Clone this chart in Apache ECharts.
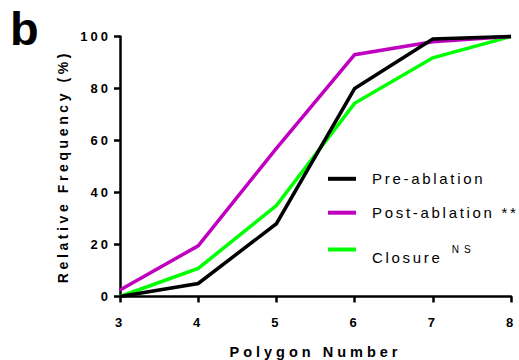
<!DOCTYPE html>
<html>
<head>
<meta charset="utf-8">
<script src="https://cdn.jsdelivr.net/npm/echarts@6/dist/echarts.min.js"></script>
<style>
  html, body { margin: 0; padding: 0; background: #fff; }
  #chart { width: 519px; height: 360px; }
  /* tracked lettering, keyed on the font size of each text group */
  #chart text[style*="13px"] { letter-spacing: 3px; }
  #chart text[style*="14px"] { letter-spacing: 3.6px; }
  #chart text[style*="14.5px"] { letter-spacing: 4px; }
  #chart text[style*="15px"] { letter-spacing: 2.7px; }
  #chart text[style*="10px"] { letter-spacing: 5px; }
</style>
</head>
<body>
<div id="chart"></div>
<script>
// Cumulative relative frequency (%) by polygon number
const polygonNumbers = [3, 4, 5, 6, 7, 8];
const preAblation  = [0, 5, 28, 80, 99, 100];
const postAblation = [2.5, 19.5, 57, 93, 98, 100];
const closure      = [0, 10.8, 35, 74.3, 91.8, 100];

const seriesNames = ['Pre-ablation', 'Post-ablation', 'Closure'];
const legendLabels = ['Pre-ablation', 'Post-ablation **', 'Closure'];
const seriesColors = ['#000000', '#bf00bf', '#00ff00'];

const FONT = '"Liberation Sans", Arial, Helvetica, sans-serif';

const pairs = vals => polygonNumbers.map((x, i) => [x, vals[i]]);

function lineSeries(name, vals, color, z) {
  return {
    name: name,
    type: 'line',
    data: pairs(vals),
    showSymbol: false,
    symbol: 'none',
    clip: false,
    z: z,
    color: color,
    itemStyle: { color: color },
    lineStyle: { color: color, width: 3.5, join: 'miter' },
    emphasis: { disabled: true },
    animation: false
  };
}

function legendFor(i, top, extra) {
  return Object.assign({
    data: [seriesNames[i]],
    left: 328,
    top: top,
    padding: 0,
    icon: 'rect',
    itemWidth: 28,
    itemHeight: 4,
    selectedMode: false,
    formatter: () => legendLabels[i],
    textStyle: {
      fontFamily: FONT,
      fontSize: 15,
      color: '#000',
      padding: [0, 0, 0, 11]
    }
  }, extra || {});
}

const chart = echarts.init(document.getElementById('chart'), null, { renderer: 'svg' });

chart.setOption({
  animation: false,
  backgroundColor: '#fff',
  grid: {
    left: 120, right: 8, top: 36.5, bottom: 63.5,
    containLabel: false,
    outerBoundsMode: 'none'
  },
  xAxis: {
    type: 'value',
    min: 3, max: 8, interval: 1,
    name: 'Polygon Number',
    nameLocation: 'middle',
    nameGap: 48,
    nameTextStyle: { fontFamily: FONT, fontSize: 14.5, fontWeight: 'bold', color: '#000' },
    axisLine: { show: true, onZero: false, lineStyle: { color: '#000', width: 2.5 } },
    axisTick: { show: true, length: 6, lineStyle: { color: '#000', width: 2.5 } },
    splitLine: { show: false },
    axisLabel: { fontFamily: FONT, fontSize: 13, fontWeight: 'bold', color: '#000', margin: 19 }
  },
  yAxis: {
    type: 'value',
    min: 0, max: 100, interval: 20,
    name: 'Relative Frequency (%)',
    nameLocation: 'middle',
    nameGap: 50,
    nameTextStyle: { fontFamily: FONT, fontSize: 14, fontWeight: 'bold', color: '#000' },
    axisLine: { show: true, onZero: false, lineStyle: { color: '#000', width: 2.5 } },
    axisTick: { show: true, length: 6, lineStyle: { color: '#000', width: 2.5 } },
    splitLine: { show: false },
    axisLabel: { fontFamily: FONT, fontSize: 13, fontWeight: 'bold', color: '#000', margin: 9 }
  },
  legend: [
    legendFor(0, 171.3),
    legendFor(1, 205.2),
    legendFor(2, 244.5, {
      formatter: () => '{c|Closure}{s|NS}',
      textStyle: {
        fontFamily: FONT,
        fontSize: 15,
        color: '#000',
        padding: [0, 0, 0, 11],
        rich: {
          c: { fontFamily: FONT, fontSize: 15, color: '#000', verticalAlign: 'middle', padding: [16, 0, 0, 0] },
          s: { fontFamily: FONT, fontSize: 10, color: '#000', verticalAlign: 'middle', padding: [0, 0, 0, 28] }
        }
      }
    })
  ],
  graphic: [{
    type: 'text',
    left: 10,
    top: 5,
    style: { text: 'b', font: 'bold 47px ' + FONT, fill: '#000' }
  }],
  series: [
    lineSeries(seriesNames[2], closure, seriesColors[2], 2),
    lineSeries(seriesNames[1], postAblation, seriesColors[1], 3),
    lineSeries(seriesNames[0], preAblation, seriesColors[0], 4)
  ]
});
</script>
</body>
</html>
